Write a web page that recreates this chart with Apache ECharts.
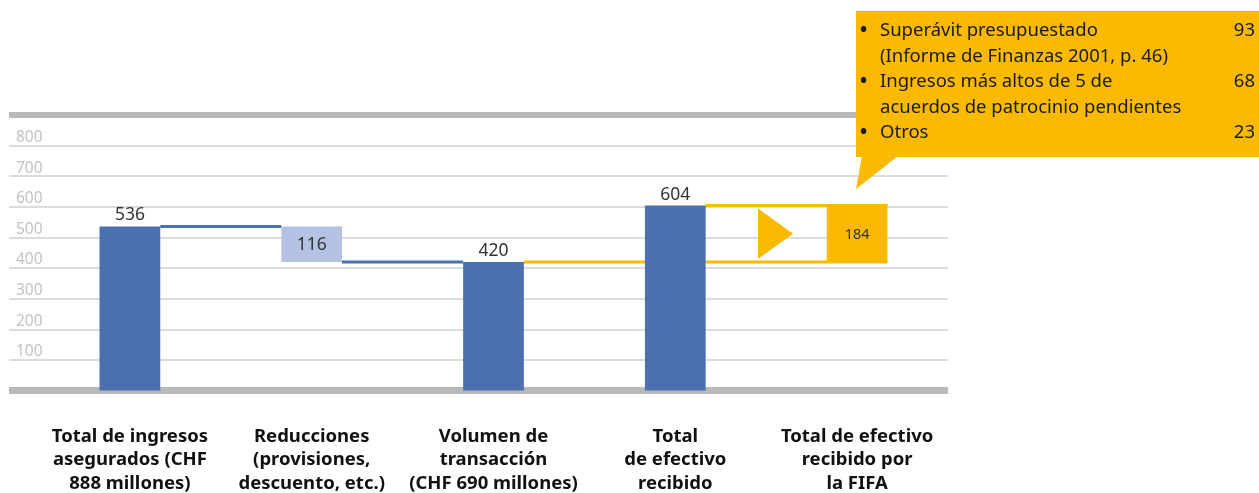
<!DOCTYPE html>
<html>
<head>
<meta charset="utf-8">
<script src="https://cdn.jsdelivr.net/npm/echarts@6/dist/echarts.min.js"></script>
<style>
  html, body { margin: 0; padding: 0; background: #fff; }
  #chart { width: 1259px; height: 493px; }
</style>
</head>
<body>
<div id="chart"></div>
<script>
// categorías (eje x)
const categories = [
  'Total de ingresos\nasegurados (CHF\n888 millones)',
  'Reducciones\n(provisiones,\ndescuento, etc.)',
  'Volumen de\ntransacción\n(CHF 690 millones)',
  'Total\nde efectivo\nrecibido',
  'Total de efectivo\nrecibido por\nla FIFA',
];
// tipo de barra, base, tope y valor mostrado
const barKinds = ['total', 'reduction', 'total', 'total', 'fifa'];
const barBase = [0, 420, 0, 0, 420];
const barTop = [536, 536, 420, 604, 604];
const barLabels = [536, 116, 420, 604, 184];
// conectores: [desde, hasta, nivel]
const links = [[0, 1, 536], [1, 2, 420], [2, 4, 420], [3, 4, 604]];
// recuadro de nota
const calloutItems = [
  'Superávit presupuestado\n(Informe de Finanzas 2001, p. 46)',
  'Ingresos más altos de 5 de\nacuerdos de patrocinio pendientes',
  'Otros',
];
const calloutLines = [2, 2, 1];
const calloutValues = [93, 68, 23];
// eje y
const yTicks = [100, 200, 300, 400, 500, 600, 700, 800];

const BLUE = '#4A70AE';
const LIGHT = '#B4C2E3';
const YELLOW = '#FBB900';
const KIND_COLOR = { total: BLUE, reduction: LIGHT, fifa: YELLOW };
const FONT = '"Noto Sans", "Open Sans", sans-serif';

const chart = echarts.init(document.getElementById('chart'));

const barData = categories.map((c, i) => [i, barBase[i], barTop[i], barLabels[i]]);

const renderBar = (params, api) => {
  const i = api.value(0);
  const kind = barKinds[i];
  const unit = api.size([1, 0])[0];
  const bw = unit * 0.334;
  const pTop = api.coord([i, api.value(2)]);
  const pBase = api.coord([i, api.value(1)]);
  const children = [{
    type: 'rect',
    shape: { x: pTop[0] - bw / 2, y: pTop[1], width: bw, height: pBase[1] - pTop[1] },
    style: { fill: KIND_COLOR[kind] },
  }];
  if (kind === 'total') {
    children.push({
      type: 'text',
      style: {
        x: pTop[0], y: pTop[1] - 2, text: String(api.value(3)),
        align: 'center', verticalAlign: 'bottom',
        font: '17.5px ' + FONT, fill: '#333',
      },
    });
  } else {
    children.push({
      type: 'text',
      style: {
        x: pTop[0], y: (pTop[1] + pBase[1]) / 2 + 1, text: String(api.value(3)),
        align: 'center', verticalAlign: 'middle',
        font: (kind === 'fifa' ? '14.5px ' : '17.5px ') + FONT, fill: '#333',
      },
    });
  }
  if (kind === 'fifa') {
    // flecha entre las dos líneas amarillas
    const x1 = pTop[0] - unit * 0.545;
    const x2 = pTop[0] - unit * 0.352;
    const y1 = pTop[1] + 3;
    const y2 = pBase[1] - 3;
    children.push({
      type: 'polygon',
      shape: { points: [[x1, y1], [x1, y2], [x2, (y1 + y2) / 2]] },
      style: { fill: YELLOW },
    });
  }
  // texto de la categoría
  const p0 = api.coord([i, 0]);
  children.push({
    type: 'text',
    style: {
      x: p0[0], y: p0[1] + 34, text: categories[i],
      align: 'center', verticalAlign: 'top', lineHeight: 23.5,
      font: 'bold 18.5px ' + FONT, fill: '#111',
    },
  });
  return { type: 'group', children };
};

const renderLink = (params, api) => {
  const from = api.value(0);
  const to = api.value(1);
  const level = api.value(2);
  const unit = api.size([1, 0])[0];
  const bw = unit * 0.334;
  const toFifa = barKinds[to] === 'fifa';
  const a = api.coord([from, level]);
  const b = api.coord([to, level]);
  const x1 = a[0] + bw / 2;
  const x2 = toFifa ? b[0] + bw / 2 : b[0] - bw / 2;
  return {
    type: 'line',
    shape: { x1, y1: a[1], x2, y2: a[1] },
    style: { stroke: toFifa ? YELLOW : BLUE, lineWidth: 3, lineCap: 'butt' },
  };
};

// recuadro amarillo de nota
const graphics = [
  { type: 'rect', shape: { x: 856, y: 11, width: 410, height: 146 }, style: { fill: YELLOW }, z: 10 },
  { type: 'polygon', shape: { points: [[862, 156], [898, 156], [856, 189]] }, style: { fill: YELLOW }, z: 10 },
];
let line = 0;
calloutItems.forEach((txt, k) => {
  const y = 18 + line * 25.5;
  graphics.push({
    type: 'text', left: 860, top: y, z: 11,
    style: { text: '•', font: 'bold 19px ' + FONT, fill: '#1a1a1a', lineHeight: 25.5 },
  });
  graphics.push({
    type: 'text', left: 880, top: y, z: 11,
    style: { text: txt, font: '18.5px ' + FONT, fill: '#1a1a1a', lineHeight: 25.5 },
  });
  graphics.push({
    type: 'text', right: 4, top: y, z: 11,
    style: { text: String(calloutValues[k]), font: '18.5px ' + FONT, fill: '#1a1a1a', lineHeight: 25.5, align: 'right' },
  });
  line += calloutLines[k];
});

const option = {
  animation: false,
  grid: { left: 9, right: 311, top: 115, bottom: 102.5 },
  xAxis: [{
    type: 'value', min: -0.665, max: 4.5, position: 'bottom',
    axisLine: { show: true, lineStyle: { color: '#B7B8BA', width: 7, cap: 'butt' } },
    axisTick: { show: false }, axisLabel: { show: false }, splitLine: { show: false },
  }, {
    type: 'value', min: -0.665, max: 4.5, position: 'top',
    axisLine: { show: true, lineStyle: { color: '#B7B8BA', width: 6, cap: 'butt' } },
    axisTick: { show: false }, axisLabel: { show: false }, splitLine: { show: false },
  }],
  yAxis: {
    type: 'value', min: 0, max: 900, interval: 100,
    axisLine: { show: false }, axisTick: { show: false },
    splitLine: { lineStyle: { color: '#D0D0D0', width: 1.5 } },
    axisLabel: {
      inside: true, margin: 7, align: 'left', verticalAlign: 'bottom',
      color: '#C2C2C2', fontSize: 15.5, fontFamily: FONT,
      formatter: (v) => (yTicks.includes(v) ? String(v) : ''),
    },
  },
  series: [{
    type: 'custom', xAxisIndex: 0, renderItem: renderLink, data: links, z: 2,
  }, {
    type: 'custom', xAxisIndex: 0, renderItem: renderBar, data: barData, z: 3,
  }],
  graphic: graphics,
};

chart.setOption(option);
</script>
</body>
</html>
